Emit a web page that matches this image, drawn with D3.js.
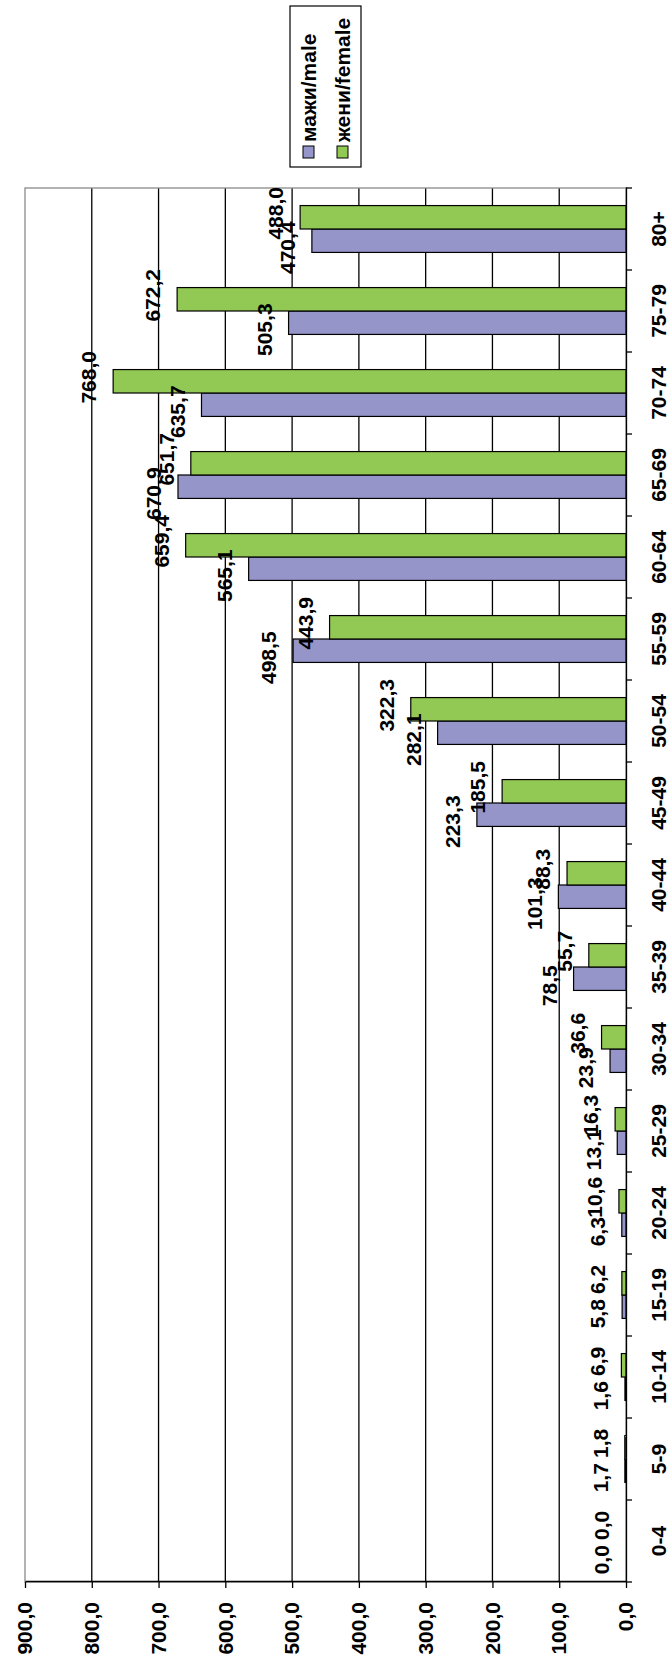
<!DOCTYPE html>
<html>
<head>
<meta charset="utf-8">
<script src="https://cdn.jsdelivr.net/npm/d3@7"></script>
<style>
  body { margin: 0; background: #fff; }
  text { font-family: "Liberation Sans", Arial, sans-serif; font-weight: bold; fill: #000; }
</style>
</head>
<body>
<svg id="chart" width="670" height="1664"></svg>
<script>
var ages = ["0-4", "5-9", "10-14", "15-19", "20-24", "25-29", "30-34", "35-39", "40-44",
            "45-49", "50-54", "55-59", "60-64", "65-69", "70-74", "75-79", "80+"];
var male = [0.0, 1.7, 1.6, 5.8, 6.3, 13.1, 23.9, 78.5, 101.3, 223.3, 282.1, 498.5, 565.1, 670.9, 635.7, 505.3, 470.4];
var female = [0.0, 1.8, 6.9, 6.2, 10.6, 16.3, 36.6, 55.7, 88.3, 185.5, 322.3, 443.9, 659.4, 651.7, 768.0, 672.2, 488.0];
var valueTicks = [0, 100, 200, 300, 400, 500, 600, 700, 800, 900];
var seriesNames = ["мажи/male", "жени/female"];

var colors = ["#9595c9", "#92c955"];

// the whole chart is drawn as a normal column chart and then turned a quarter left
var W = 1664;
var plotLeft = 82, plotRight = 1476, plotTop = 25, plotBottom = 626;
var fontSize = "21px";

var svg = d3.select("#chart");
var g = svg.append("g").attr("transform", "translate(0," + W + ") rotate(-90)");

var fmt = function(v) { return d3.format(".1f")(v).replace(".", ","); };

var x0 = d3.scaleBand().domain(ages).range([plotLeft, plotRight]);
var x1 = d3.scaleBand().domain([0, 1]).range([0, x0.bandwidth()]).paddingOuter(0.75);
var y = d3.scaleLinear().domain([0, 900]).range([plotBottom, plotTop]);

// gridlines
g.append("g").selectAll("line")
  .data(valueTicks.filter(function(t) { return t > 0 && t < 900; }))
  .enter().append("line")
  .attr("x1", plotLeft).attr("x2", plotRight)
  .attr("y1", function(d) { return y(d); })
  .attr("y2", function(d) { return y(d); })
  .style("stroke", "#000")
  .style("stroke-width", 1.3);

// plot area border
g.append("rect")
  .attr("x", plotLeft).attr("y", plotTop)
  .attr("width", plotRight - plotLeft).attr("height", plotBottom - plotTop)
  .style("fill", "none")
  .style("stroke", "#8a8a8a")
  .style("stroke-width", 1.3);

// bars
var groups = g.append("g").selectAll("g")
  .data(ages)
  .enter().append("g")
  .attr("transform", function(d) { return "translate(" + x0(d) + ",0)"; });

groups.selectAll("rect")
  .data(function(d, i) { return [male[i], female[i]]; })
  .enter().append("rect")
  .attr("x", function(d, j) { return x1(j); })
  .attr("width", x1.bandwidth())
  .attr("y", function(d) { return y(d); })
  .attr("height", function(d) { return plotBottom - y(d); })
  .style("fill", function(d, j) { return colors[j]; })
  .style("stroke", "#000")
  .style("stroke-width", 1.2);

// data labels, a little apart so the pairs do not sit on each other
var shift = [-7, 4];
groups.selectAll("text")
  .data(function(d, i) { return [male[i], female[i]]; })
  .enter().append("text")
  .attr("x", function(d, j) { return x1(j) + x1.bandwidth() / 2 + shift[j]; })
  .attr("y", function(d) { return y(d) - 24; })
  .attr("dy", "0.35em")
  .attr("text-anchor", "middle")
  .style("font-size", fontSize)
  .text(fmt);

// value axis
var yAxis = g.append("g")
  .attr("transform", "translate(" + plotLeft + ",0)")
  .call(d3.axisLeft(y).tickValues(valueTicks).tickFormat(fmt).tickSize(6).tickSizeOuter(0).tickPadding(14));
yAxis.selectAll("text").style("font-size", fontSize).style("font-family", null);
yAxis.selectAll("line, path").style("stroke", "#000").style("stroke-width", 1.3);

// category axis
var xAxis = g.append("g")
  .attr("transform", "translate(0," + plotBottom + ")")
  .call(d3.axisBottom(x0).tickSize(0).tickSizeOuter(0).tickPadding(25));
xAxis.selectAll("text").style("font-size", fontSize).style("font-family", null);
xAxis.select(".domain").style("stroke", "#000").style("stroke-width", 1.3);
xAxis.append("g").selectAll("line")
  .data(d3.range(ages.length + 1))
  .enter().append("line")
  .attr("x1", function(i) { return plotLeft + i * x0.step(); })
  .attr("x2", function(i) { return plotLeft + i * x0.step(); })
  .attr("y1", 0).attr("y2", 6)
  .style("stroke", "#000")
  .style("stroke-width", 1.3);

// legend
var legend = g.append("g").attr("transform", "translate(1497,290)");
legend.append("rect")
  .attr("width", 161).attr("height", 71)
  .style("fill", "#fff")
  .style("stroke", "#000")
  .style("stroke-width", 1.2);
var items = legend.selectAll("g.item")
  .data(seriesNames)
  .enter().append("g")
  .attr("class", "item")
  .attr("transform", function(d, i) { return "translate(9," + (19 + i * 34) + ")"; });
items.append("rect")
  .attr("x", 0).attr("y", -6)
  .attr("width", 12).attr("height", 11)
  .style("fill", function(d, i) { return colors[i]; })
  .style("stroke", "#000")
  .style("stroke-width", 1);
items.append("text")
  .attr("x", 16)
  .attr("dy", "0.35em")
  .style("font-size", fontSize)
  .text(function(d) { return d; });
</script>
</body>
</html>
